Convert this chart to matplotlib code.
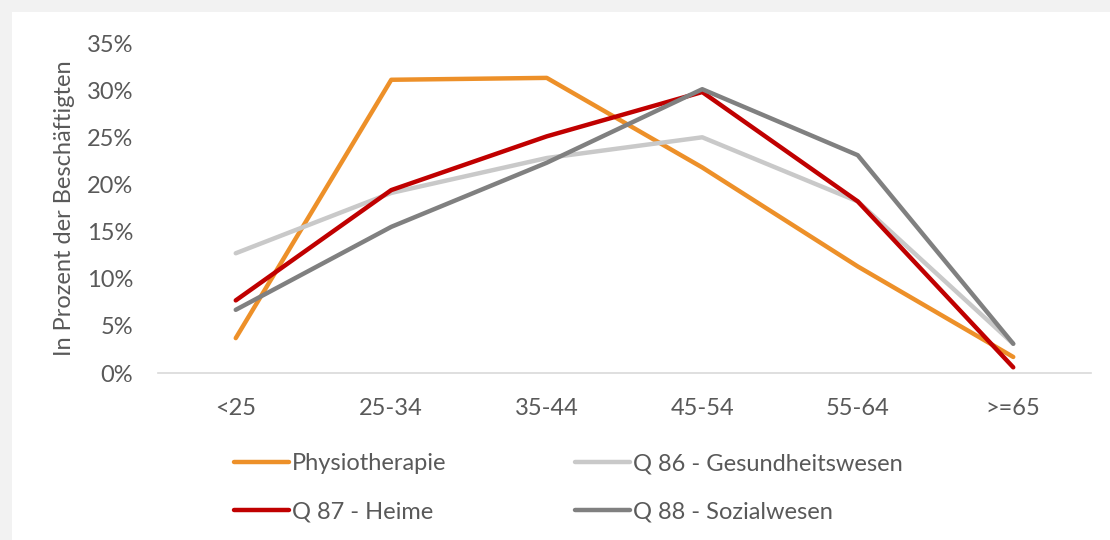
import matplotlib.pyplot as plt
from matplotlib.lines import Line2D
from matplotlib.patches import Rectangle
from matplotlib.ticker import FuncFormatter

## ----- DATA ------ ##

age_groups = ["<25", "25-34", "35-44", "45-54", "55-64", ">=65"]
series_names = ["Physiotherapie", "Q 86 - Gesundheitswesen",
                "Q 87 - Heime", "Q 88 - Sozialwesen"]
physio = [3.7, 31.1, 31.3, 21.8, 11.3, 1.7]
q86 = [12.7, 19.1, 22.8, 25.0, 18.2, 3.1]
q87 = [7.7, 19.4, 25.1, 29.8, 18.2, 0.6]
q88 = [6.7, 15.5, 22.3, 30.1, 23.1, 3.1]
y_ticks = [0, 5, 10, 15, 20, 25, 30, 35]

colors = ["#ED9029", "#C9C9C9", "#C00000", "#808080"]
text_color = "#595959"

plt.rcParams['font.family'] = ['Lato', 'DejaVu Sans']

fig = plt.figure(figsize=(11.1, 5.4), dpi=100, facecolor="#f2f2f2")
# white chart area, leaving a thin grey strip on top and left
fig.patches.append(Rectangle((12 / 1110, 0), 1, 1 - 12 / 540,
                             transform=fig.transFigure, facecolor="white",
                             edgecolor="none", zorder=-10))

ax = fig.add_axes([158 / 1110, 1 - 373 / 540, 933 / 1110, 330 / 540])
ax.set_facecolor("none")
ax.set_zorder(1)

x = list(range(len(age_groups)))
for vals, name, col in zip([physio, q86, q87, q88], series_names, colors):
    ax.plot(x, vals, color=col, lw=3.2, label=name, clip_on=False,
            solid_capstyle='round', solid_joinstyle='round')

ax.set_xlim(-0.5, len(age_groups) - 0.5)
ax.set_ylim(0, 35)
ax.set_xticks(x)
ax.set_xticklabels(age_groups)
ax.set_yticks(y_ticks)
ax.yaxis.set_major_formatter(FuncFormatter(lambda v, p: "%d%%" % v))
ax.tick_params(length=0, labelsize=17, colors=text_color)
ax.tick_params(axis='x', pad=18)
ax.tick_params(axis='y', pad=18)

for s in ["top", "right", "left"]:
    ax.spines[s].set_visible(False)
ax.spines["bottom"].set_color("#D9D9D9")
ax.spines["bottom"].set_linewidth(1.2)

ax.set_ylabel("In Prozent der Beschäftigten", fontsize=17,
              color=text_color, labelpad=8)

# legend in two columns: Physio / Q87 on the left, Q86 / Q88 on the right
order = [0, 2, 1, 3]
handles = [Line2D([], [], color=colors[i], lw=3.2, solid_capstyle='round')
           for i in order]
fig.legend(handles, [series_names[i] for i in order], ncol=2,
           loc='center left', bbox_to_anchor=(213 / 1110, 1 - 488 / 540),
           frameon=False, fontsize=17, labelcolor=text_color,
           handlelength=2.3, handletextpad=0.15, columnspacing=5.45,
           labelspacing=1.15)

fig.savefig("out.png", dpi=100, facecolor=fig.get_facecolor())
